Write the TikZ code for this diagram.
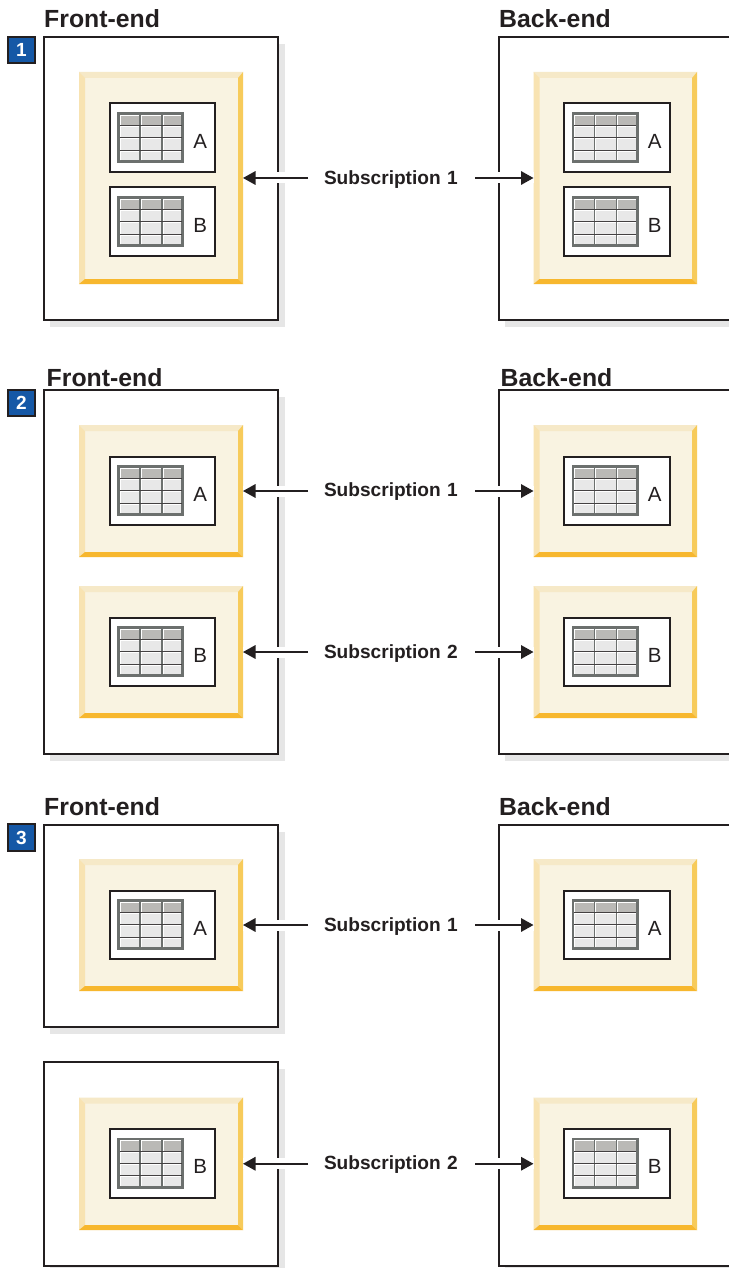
\documentclass[tikz,border=0pt]{standalone}
\usepackage{fontspec}
\setmainfont{Liberation Sans}
\usetikzlibrary{arrows.meta,calc}
\definecolor{ink}{HTML}{231F20}
\definecolor{shadowgray}{HTML}{E6E6E6}
\definecolor{face}{HTML}{F9F3E1}
\definecolor{beveltop}{HTML}{F6E9C8}
\definecolor{bevelleft}{HTML}{F8E3B2}
\definecolor{bevelright}{HTML}{F7CB5B}
\definecolor{bevelbottom}{HTML}{F7B72E}
\definecolor{badgeblue}{HTML}{1558A6}
\definecolor{tblborder}{HTML}{6C706E}
\definecolor{tblhead}{HTML}{BAB9B6}
\definecolor{tblcell}{HTML}{E8E8E8}
\tikzset{
  x=1pt,y=-1pt,
  boxline/.style={draw=ink,line width=2pt},
  plainbox/.style={boxline,fill=white,inner sep=0pt,outer sep=0pt},
  amberbox/.style={fill=face,inner sep=0pt,outer sep=0pt},
  titletext/.style={anchor=base west,inner sep=0pt,font=\fontsize{24.8}{28}\selectfont\bfseries,text=ink},
  lettertext/.style={anchor=base,inner sep=0pt,font=\fontsize{20.5}{24}\selectfont,text=ink},
  sublabel/.style={anchor=base west,inner xsep=16pt,inner ysep=0pt,outer sep=0pt,text width=135pt,font=\fontsize{19.1}{23}\selectfont\bfseries,text=ink},
  badge/.style={draw=ink,line width=2pt,fill=badgeblue,text=white,inner sep=0pt,font=\fontsize{19}{22}\selectfont\bfseries},
  link/.style={draw=ink,line width=1.7pt,-{Triangle[length=12.5pt,width=13.5pt]},preaction={draw=white,line width=11pt,-}},
}
% closed outer box with its drop shadow: name, x1, y1, x2, y2
\newcommand{\outerbox}[5]{%
  \fill[shadowgray] (#2+6,#3+7) rectangle (#4+7,{min(#5+7,1268)});
  \node[plainbox,minimum width={(#4-#2)*1pt},minimum height={(#5-#3)*1pt}] (#1) at ({(#2+#4)/2},{(#3+#5)/2}) {};
}
% outer box cut off by the right margin: x1, y1, y2
\newcommand{\openbox}[3]{%
  \fill[shadowgray] (#1+6.5,#2+7) rectangle (729,{min(#3+7,1268)});
  \fill[white] (#1,#2) rectangle (729,#3);
  \draw[boxline] (729,#2) -- (#1,#2) -- (#1,#3) -- (729,#3);
}
% bevelled amber box: name, x1, y1, x2, y2
\newcommand{\amber}[5]{%
  \node[amberbox,minimum width={(#4-#2)*1pt},minimum height={(#5-#3)*1pt}] (#1) at ({(#2+#4)/2},{(#3+#5)/2}) {};
  \fill[beveltop] (#2,#3) -- (#4,#3) -- (#4-5,#3+6) -- (#2+6,#3+6) -- cycle;
  \fill[bevelleft] (#2,#3) -- (#2+6,#3+6) -- (#2+6,#5-5) -- (#2,#5) -- cycle;
  \fill[bevelright] (#4,#3) -- (#4-5,#3+6) -- (#4-5,#5-5) -- (#4,#5) -- cycle;
  \fill[bevelbottom] (#2,#5) -- (#2+6,#5-5) -- (#4-5,#5-5) -- (#4,#5) -- cycle;
}
% inner white box with table icon and letter: name, x, y, letter
\newcommand{\tablebox}[4]{%
  \node[plainbox,minimum width=105.5pt,minimum height=68.5pt] (#1) at (#2+52.75,#3+34.25) {};
  \begin{scope}[shift={(#2+7.5,#3+8.5)}]
    \fill[tblborder] (0,0) rectangle (67,51);
    \foreach \xa/\xb in {2.6/22,24/44,46/64.4}{
      \fill[tblhead] (\xa,2.6) rectangle (\xb,13.2);
      \foreach \ya/\yb in {14.2/25.3,26.3/37.7,38.7/48.4}{
        \fill[tblcell] (\xa,\ya) rectangle (\xb,\yb);
        \draw[white,line width=0.7pt] (\xa+.3,\yb) -- (\xa+.3,\ya+.3) -- (\xb,\ya+.3);
      }
      \draw[white,line width=0.7pt] (\xa+.3,13.2) -- (\xa+.3,2.9) -- (\xb,2.9);
    }
    \foreach \yy in {13.7,25.8,38.2}{\draw[ink!85,line width=1pt] (2.5,\yy) -- (64.5,\yy);}
  \end{scope}
  \node[lettertext] (#1l) at (#2+90.8,#3+44.8) {#4};
}
\begin{document}
\begin{tikzpicture}
\useasboundingbox (0,0) rectangle (729,1268);
\fill[white] (0,0) rectangle (729,1268);

% --- panel 1
\node[titletext] (t1f) at (44,28) {Front-end};
\node[titletext] (t1b) at (499,28) {Back-end};
\node[badge,minimum width=26.5pt,minimum height=26.5pt] (b1) at (21.5,50) {1};
\outerbox{f1}{44}{37}{278}{320}
\openbox{498.5}{37}{320}
\amber{fa1}{79}{72}{243}{284}
\amber{ba1}{533.5}{72}{697}{284}
\tablebox{fa1a}{109.5}{103.5}{A}
\tablebox{fa1b}{109.5}{187.5}{B}
\tablebox{ba1a}{564}{103.5}{A}
\tablebox{ba1b}{564}{187.5}{B}
\node[sublabel] (s1) at (308,185) {Subscription 1};
\draw[link] (s1.west |- fa1.east) -- (fa1.east);
\draw[link] (s1.east |- ba1.west) -- (ba1.west);

% --- panel 2
\node[titletext] (t2f) at (46.5,386) {Front-end};
\node[titletext] (t2b) at (500.5,386) {Back-end};
\node[badge,minimum width=26.5pt,minimum height=26.5pt] (b2) at (21.5,403) {2};
\outerbox{f2}{44}{389.5}{278}{754}
\openbox{498.5}{389.5}{754}
\amber{fa2}{79}{425}{243}{557}
\amber{fb2}{79}{586}{243}{718}
\amber{ba2}{533.5}{425}{697}{557}
\amber{bb2}{533.5}{586}{697}{718}
\tablebox{fa2a}{109.5}{456.5}{A}
\tablebox{fb2b}{109.5}{617.5}{B}
\tablebox{ba2a}{564}{456.5}{A}
\tablebox{bb2b}{564}{617.5}{B}
\node[sublabel] (s2a) at (308,496) {Subscription 1};
\node[sublabel] (s2b) at (308,658) {Subscription 2};
\draw[link] (s2a.west |- fa2.east) -- (fa2.east);
\draw[link] (s2a.east |- ba2.west) -- (ba2.west);
\draw[link] (s2b.west |- fb2.east) -- (fb2.east);
\draw[link] (s2b.east |- bb2.west) -- (bb2.west);

% --- panel 3
\node[titletext] (t3f) at (44,815) {Front-end};
\node[titletext] (t3b) at (499,815) {Back-end};
\node[badge,minimum width=26.5pt,minimum height=26.5pt] (b3) at (21.5,837.5) {3};
\outerbox{f3a}{44}{824.5}{278}{1027}
\outerbox{f3b}{44}{1062}{278}{1265.5}
\openbox{498.5}{824.5}{1265.5}
\amber{fa3}{79}{859}{243}{991}
\amber{fb3}{79}{1097.5}{243}{1230}
\amber{ba3}{533.5}{859}{697}{991}
\amber{bb3}{533.5}{1097.5}{697}{1230}
\tablebox{fa3a}{109.5}{890.5}{A}
\tablebox{fb3b}{109.5}{1129}{B}
\tablebox{ba3a}{564}{890.5}{A}
\tablebox{bb3b}{564}{1129}{B}
\node[sublabel] (s3a) at (308,931) {Subscription 1};
\node[sublabel] (s3b) at (308,1169) {Subscription 2};
\draw[link] (s3a.west |- fa3.east) -- (fa3.east);
\draw[link] (s3a.east |- ba3.west) -- (ba3.west);
\draw[link] (s3b.west |- fb3.east) -- (fb3.east);
\draw[link] (s3b.east |- bb3.west) -- (bb3.west);
\end{tikzpicture}
\end{document}
